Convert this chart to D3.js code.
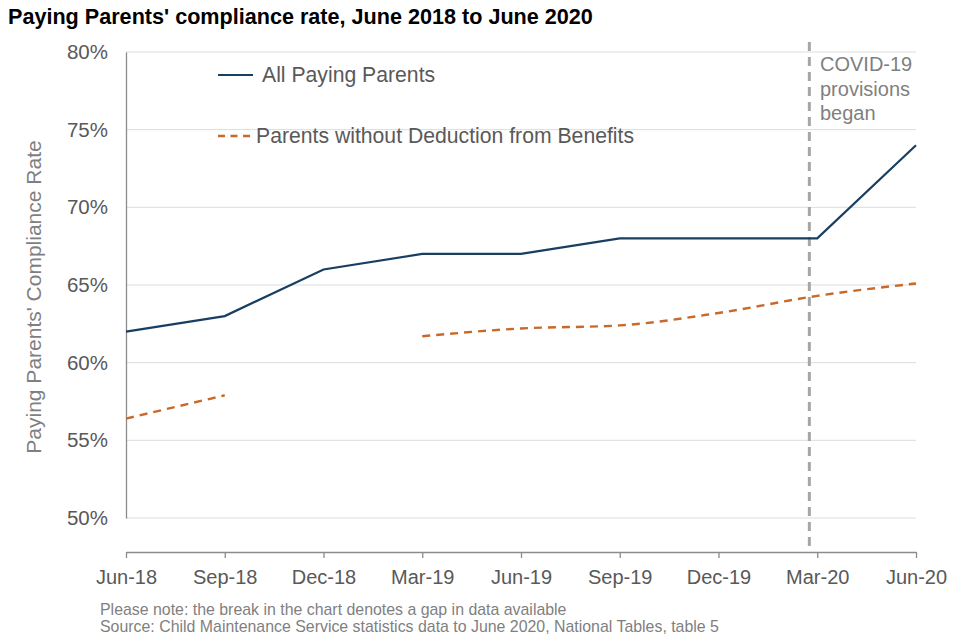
<!DOCTYPE html>
<html>
<head>
<meta charset="utf-8">
<script src="https://cdn.jsdelivr.net/npm/d3@7"></script>
<style>
  body { margin: 0; background: #fff; }
  svg text { font-family: Arial, "Liberation Sans", sans-serif; }
</style>
</head>
<body>
<div id="chart"></div>
<script>
// quarters along the x axis
var quarters = ["Jun-18", "Sep-18", "Dec-18", "Mar-19", "Jun-19", "Sep-19", "Dec-19", "Mar-20", "Jun-20"];
// all paying parents compliance, %
var allPaying = [62.0, 63.0, 66.0, 67.0, 67.0, 68.0, 68.0, 68.0, 74.0];
// without deduction from benefits, null = gap in data
var withoutDeduction = [56.4, 57.9, null, 61.7, 62.2, 62.4, 63.2, 64.3, 65.1];
var yTicks = [50, 55, 60, 65, 70, 75, 80];
var covidAt = 6.92; // position in quarter index, just before Mar-20

var width = 960, height = 640;
var margin = {top: 52, right: 44, bottom: 121, left: 126};

var svg = d3.select("#chart").append("svg")
    .attr("width", width)
    .attr("height", height);

var x = d3.scalePoint()
    .domain(quarters)
    .range([margin.left, width - margin.right]);

var xi = d3.scaleLinear()
    .domain([0, quarters.length - 1])
    .range([margin.left, width - margin.right]);

var y = d3.scaleLinear()
    .domain([50, 80])
    .range([height - margin.bottom - 1, margin.top]);

// title
svg.append("text")
    .attr("x", 8)
    .attr("y", 24)
    .style("font-size", "21.6px")
    .style("font-weight", "bold")
    .style("fill", "#000")
    .text("Paying Parents' compliance rate, June 2018 to June 2020");

// gridlines
svg.append("g").selectAll("line")
    .data(yTicks).enter()
    .append("line")
        .attr("x1", margin.left)
        .attr("x2", width - margin.right)
        .attr("y1", function(d) { return y(d); })
        .attr("y2", function(d) { return y(d); })
        .attr("stroke", "#dcdcdc")
        .attr("stroke-width", 1);

// y axis
var yAxis = svg.append("g")
    .attr("transform", "translate(" + margin.left + ",0)")
    .call(d3.axisLeft(y).tickValues(yTicks).tickSize(0).tickPadding(18)
        .tickFormat(function(d) { return d + "%"; }));
yAxis.select(".domain").attr("stroke", "#8c8c8c").attr("stroke-width", 1.3);
yAxis.selectAll("text")
    .style("font-size", "20.5px")
    .style("fill", "#595959")
    .style("font-family", "Arial, 'Liberation Sans', sans-serif");

// x axis
var xAxisY = 552;
var xAxis = svg.append("g")
    .attr("transform", "translate(0," + xAxisY + ")")
    .call(d3.axisBottom(x).tickSize(6).tickSizeOuter(0).tickPadding(12));
xAxis.select(".domain").attr("stroke", "#8c8c8c").attr("stroke-width", 1.3);
xAxis.selectAll(".tick line").attr("stroke", "#8c8c8c").attr("stroke-width", 1.3);
xAxis.selectAll("text")
    .style("font-size", "20px")
    .style("fill", "#595959")
    .style("font-family", "Arial, 'Liberation Sans', sans-serif");

// y axis title
svg.append("text")
    .attr("transform", "translate(41," + 297 + ") rotate(-90)")
    .attr("text-anchor", "middle")
    .style("font-size", "21px")
    .style("fill", "#7f7f7f")
    .text("Paying Parents' Compliance  Rate");

// covid marker
svg.append("line")
    .attr("x1", xi(covidAt))
    .attr("x2", xi(covidAt))
    .attr("y1", 42)
    .attr("y2", xAxisY)
    .attr("stroke", "#a6a6a6")
    .attr("stroke-width", 3)
    .attr("stroke-dasharray", "9,6");

var covidLines = ["COVID-19", "provisions", "began"];
svg.append("text")
    .attr("x", 820)
    .attr("y", 71)
    .style("font-size", "20px")
    .style("fill", "#7f7f7f")
    .selectAll("tspan")
    .data(covidLines).enter()
    .append("tspan")
        .attr("x", 820)
        .attr("dy", function(d, i) { return i === 0 ? 0 : 24.5; })
        .text(function(d) { return d; });

// series
var line = d3.line()
    .defined(function(d) { return d !== null; })
    .x(function(d, i) { return x(quarters[i]); })
    .y(function(d) { return y(d); });

svg.append("path")
    .datum(allPaying)
    .attr("fill", "none")
    .attr("stroke", "#183e62")
    .attr("stroke-width", 2.2)
    .attr("d", line);

svg.append("path")
    .datum(withoutDeduction)
    .attr("fill", "none")
    .attr("stroke", "#c8692a")
    .attr("stroke-width", 2.4)
    .attr("stroke-dasharray", "8,6")
    .attr("d", line.curve(d3.curveMonotoneX));

// legend
var legend = svg.append("g");
legend.append("line")
    .attr("x1", 218).attr("x2", 253)
    .attr("y1", 75).attr("y2", 75)
    .attr("stroke", "#183e62")
    .attr("stroke-width", 2.2);
legend.append("text")
    .attr("x", 262).attr("y", 82)
    .style("font-size", "21.2px")
    .style("fill", "#595959")
    .text("All Paying Parents");

legend.append("line")
    .attr("x1", 218).attr("x2", 253)
    .attr("y1", 136).attr("y2", 136)
    .attr("stroke", "#c8692a")
    .attr("stroke-width", 2.4)
    .attr("stroke-dasharray", "7,5.5");
legend.append("text")
    .attr("x", 256).attr("y", 143)
    .style("font-size", "21.2px")
    .style("fill", "#595959")
    .text("Parents without Deduction from Benefits");

// notes
var notes = ["Please note: the break in the chart denotes a gap in data available",
    "Source: Child Maintenance  Service statistics data to June 2020, National Tables, table 5"];
svg.append("g").selectAll("text")
    .data(notes).enter()
    .append("text")
        .attr("x", 100)
        .attr("y", function(d, i) { return 615 + i * 17; })
        .style("font-size", "15.9px")
        .style("fill", "#7f7f7f")
        .text(function(d) { return d; });
</script>
</body>
</html>
